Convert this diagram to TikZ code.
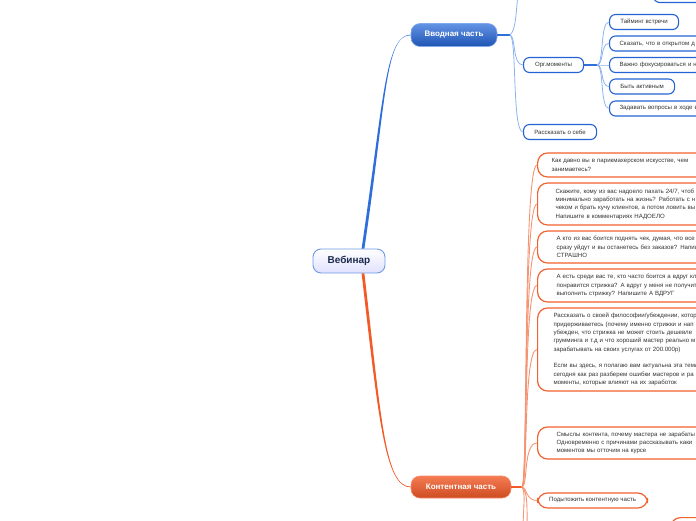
\documentclass[tikz,border=0pt]{standalone}
\usepackage{fontspec}
\setmainfont{Liberation Sans}
\definecolor{bluebd}{HTML}{2463D4}
\definecolor{bluemain}{HTML}{2F6FDB}
\definecolor{bluelight}{HTML}{8DB3EE}
\definecolor{orbd}{HTML}{F2622F}
\definecolor{ormain}{HTML}{F25A28}
\definecolor{orlight}{HTML}{F59473}
\definecolor{txt}{HTML}{333333}
\definecolor{navy}{HTML}{1B2A50}
\begin{document}
\begin{tikzpicture}[x=1pt,y=-1pt,
  every node/.style={font=\fontsize{6.1}{8.3}\selectfont, inner sep=0pt},
  rootbox/.style={draw=bluemain!70, line width=0.9pt, rounded corners=8pt, top color=white, bottom color=black!4!blue!12!white,
    minimum width=72pt, minimum height=24pt, text=navy, font=\fontsize{10}{12}\bfseries},
  bluetitle/.style={draw=bluemain!60, line width=0.6pt, rounded corners=9pt, top color=bluemain!75!white, bottom color=bluebd!85!black,
    minimum width=86pt, minimum height=23pt, text=white, font=\fontsize{8}{10}\bfseries},
  ortitle/.style={draw=ormain!70, line width=0.6pt, rounded corners=9pt, top color=ormain!80!white, bottom color=ormain!85!black,
    minimum width=100pt, minimum height=22pt, text=white, font=\fontsize{8}{10}\bfseries},
  bbox/.style={draw=bluebd, line width=1.1pt, rounded corners=6pt, fill=white, anchor=west,
    minimum height=15pt, inner xsep=10pt, text=txt},
  obox/.style={draw=orbd, line width=1.2pt, rounded corners=10pt, fill=white, anchor=west,
    align=left, text width=200pt, text=txt},
  bstub/.style={draw=bluemain, line width=1.3pt},
  blight/.style={draw=bluelight, line width=0.8pt},
  ostub/.style={draw=ormain, line width=1.6pt},
  olight/.style={draw=orlight, line width=0.9pt},
]
\useasboundingbox (0,0) rectangle (696,520);
\clip (0,0) rectangle (696,520);

% main nodes
\node[rootbox] (root) at (349,261) {Вебинар};
\node[bluetitle] (vv) at (454,35) {Вводная часть};
\node[ortitle] (kk) at (461,487) {Контентная часть};

% root connectors (tapered)
\fill[bluemain] ([xshift=12.6pt]root.north) .. controls (383.6,100) and (385,35.4) .. ([yshift=0.35pt]vv.west)
   -- ([yshift=-0.35pt]vv.west) .. controls (385,34.6) and (386.4,100) .. ([xshift=15.4pt]root.north) -- cycle;
\fill[ormain] ([xshift=12.6pt]root.south) .. controls (378.6,420) and (385,487.4) .. ([yshift=-0.35pt]kk.west)
   -- ([yshift=0.35pt]kk.west) .. controls (385,486.6) and (381.4,420) .. ([xshift=15.4pt]root.south) -- cycle;

% Вводная часть branch
\coordinate (vj) at (510,35);
\coordinate (vtop) at (518,-6);
\node[bbox, minimum width=60pt] (org) at (523,65) {Орг.моменты};
\node[bbox, minimum width=73pt] (about) at (523,132) {Рассказать о себе};
\node[bbox, anchor=south west, minimum width=120pt, minimum height=40pt] (topbox) at (653,3) {};
\draw[bstub] (vv.east) -- (vj);
\draw[blight] (vj) .. controls (516,30) and (516,12) .. (vtop);
\draw[blight] (vj) .. controls (516,36) and (512,65) .. (org.west);
\draw[blight] (vj) .. controls (517,38) and (512,132) .. (about.west);

\coordinate (oj) at (597,65);
\node[bbox, minimum width=69pt] (t1) at (609,22) {Тайминг встречи};
\node[bbox, minimum width=150pt, text width=130pt] (t2) at (609,43.5) {Сказать, что в открытом д};
\node[bbox, minimum width=150pt, text width=130pt] (t3) at (609,65) {Важно фокусироваться и н};
\node[bbox, minimum width=65pt] (t4) at (609,86.5) {Быть активным};
\node[bbox, minimum width=150pt, text width=130pt] (t5) at (609,108.5) {Задавать вопросы в ходе в};
\draw[bstub] (org.east) -- (oj);
\foreach \n in {t1,t2,t3,t4,t5}
  \draw[blight] (oj) .. controls (604,65) and (600,0 |- \n.west) .. (\n.west);

% Контентная часть branch
\coordinate (kj) at (522,487);
\coordinate (kd1) at (523,530);
\coordinate (kd2) at (527,530);
\node[obox, minimum height=24pt, inner xsep=14pt] (o1) at (537,165)
  {Как давно вы в парикмахерском искусстве, чем\\занимаетесь?};
\node[obox, minimum height=42pt, inner xsep=18pt] (o2) at (537,204)
  {Скажите, кому из вас надоело пахать 24/7, чтоб\\минимально заработать на жизнь? Работать с н\\чеком и брать кучу клиентов, а потом ловить вы\\Напишите в комментариях НАДОЕЛО};
\node[obox, minimum height=32pt, inner xsep=19pt] (o3) at (537,247)
  {А кто из вас боится поднять чек, думая, что все\\сразу уйдут и вы останетесь без заказов? Напиш\\СТРАШНО};
\node[obox, minimum height=33pt, inner xsep=19pt] (o4) at (537,285.5)
  {А есть среди вас те, кто часто боится а вдруг кл\\понравится стрижка? А вдруг у меня не получится\\выполнить стрижку? Напишите А ВДРУГ};
\node[obox, minimum height=83pt, inner xsep=16pt] (o5) at (537,349.5)
  {Рассказать о своей философии/убеждении, котор\\придерживаетесь (почему именно стрижки и нап\\убежден, что стрижка не может стоить дешевле\\грумминга и т.д и что хороший мастер реально м\\зарабатывать на своих услугах от 200.000р)\\[8.3pt]Если вы здесь, я полагаю вам актуальна эта тема\\сегодня как раз разберем ошибки мастеров и ра\\моменты, которые влияют на их заработок};
\node[obox, minimum height=32pt, inner xsep=19pt] (o6) at (537,443)
  {Смыслы контента, почему мастера не зарабаты\\Одновременно с причинами рассказывать каки\\моментов мы отточим на курсе};
\node[obox, text width=, align=center, minimum width=110pt, minimum height=15pt, inner xsep=10pt] (o7) at (537,500.5)
  {Подытожить контентную часть};
\node[obox, text width=, anchor=north west, minimum width=100pt, minimum height=20pt] (o8) at (670,517) {};
\draw[ostub] (kk.east) -- (kj);
\foreach \n in {o1,o2,o3,o4,o5,o6}
  \draw[olight] (kj) .. controls (528,487) and (523,0 |- \n.west) .. (\n.west);
\draw[olight] (kj) .. controls (527,488) and (526,500.5) .. (o7.west);
\draw[olight] (kj) .. controls (526,492) and (523,510) .. (kd1);
\draw[olight] (kj) .. controls (528,492) and (527,510) .. (kd2);
\end{tikzpicture}
\end{document}
